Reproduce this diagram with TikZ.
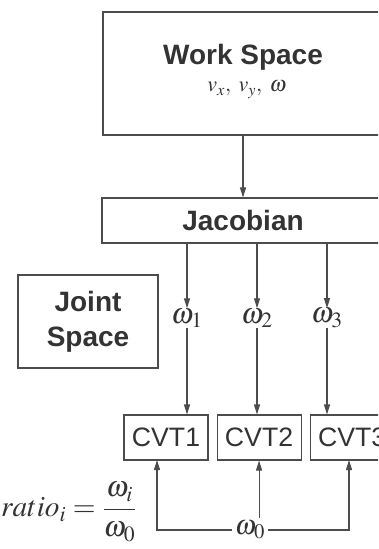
\documentclass[tikz,border=0pt]{standalone}
\usepackage{mathptmx}
\usepackage[no-math]{fontspec}
\setsansfont{Liberation Sans}
\usetikzlibrary{positioning,arrows.meta}

\begin{document}
\begin{tikzpicture}[x=0.75pt, y=-0.75pt,
				boxnode/.style={rectangle, draw=black!70, line width=0.8pt, inner sep=0pt, text=black!80, font=\sffamily\bfseries\fontsize{21}{26}\selectfont},
				cvtnode/.style={boxnode, minimum width=63pt, minimum height=33.75pt, font=\sffamily\fontsize{20}{24}\selectfont},
				omeganode/.style={inner sep=0pt, text=black!80, font=\fontsize{22}{26}\selectfont},
			]
			\useasboundingbox (0,0) rectangle (378,549);
			\clip (0,0) rectangle (378,549);
			\node[boxnode, minimum width=210pt, minimum height=92.25pt] (work) at (243,73.5) {};
			\node[anchor=base, text=black!80, font=\sffamily\bfseries\fontsize{21}{26}\selectfont] (worktitle) at (243,65) {Work Space};
			\node[anchor=base, text=black!80, font=\fontsize{16.5}{20}\selectfont] (workvars) at (247,92) {$v_x,\; v_y,\; \omega$};
			\node[boxnode, minimum width=211.5pt, minimum height=33.75pt] (jac) at (243,220.5) {Jacobian};
			\node[boxnode, minimum width=105pt, minimum height=69.75pt, align=center] (joint) at (88,321.5) {Joint\\Space};
			\node[omeganode] (w1) at (187,318) {$\omega_1$};
			\node[omeganode] (w2) at (257,318) {$\omega_2$};
			\node[omeganode] (w3) at (327,318) {$\omega_3$};
			\node[cvtnode] (cvt1) at (166,437.5) {CVT1};
			\node[cvtnode] (cvt2) [right=6pt of cvt1] {CVT2};
			\node[cvtnode] (cvt3) [right=6pt of cvt2] {CVT3};
			\node[omeganode, fill=white, inner sep=2pt, font=\fontsize{21}{24}\selectfont] (w0) at (250,530) {$\omega_0$};
			\node[omeganode, font=\fontsize{22}{26}\selectfont] (ratio) at (69,512) {$ratio_i=\displaystyle\frac{\omega_i}{\omega_0}$};
			\coordinate (feed1) at (157,460);
			\coordinate (feed3) at (349,460);
			\begin{scope}[draw=black!70, line width=0.8pt, -{Triangle[length=7.5pt,width=4.5pt]}]
			\draw (work) -- (jac);
			\draw (jac.south -| w1) -- (w1);
			\draw (jac.south -| w2) -- (w2);
			\draw (jac.south -| w3) -- (w3);
			\draw (w1) -- (w1 |- cvt1.north);
			\draw (w2) -- (w2 |- cvt2.north);
			\draw (w3) -- (w3 |- cvt3.north);
			\draw (w0.north -| cvt2.south) -- (cvt2.south);
			\draw (w0.west) -| (feed1);
			\draw (w0.east) -| (feed3);
			\end{scope}
			\end{tikzpicture}
\end{document}
